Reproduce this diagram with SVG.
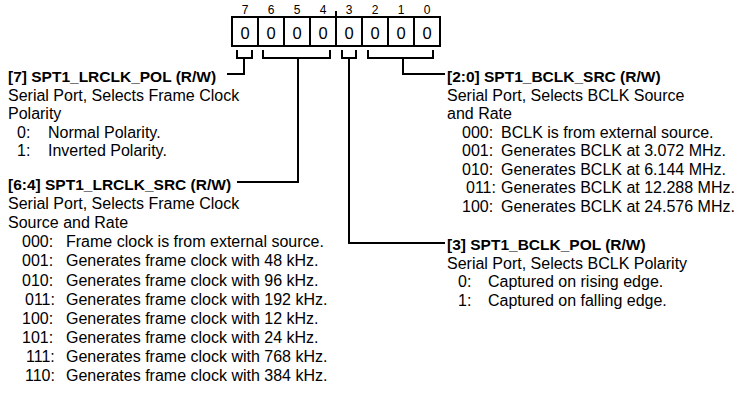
<svg xmlns="http://www.w3.org/2000/svg" width="743" height="400" viewBox="0 0 743 400">
<style>
text{font-family:"Liberation Sans",Arial,sans-serif;fill:#000}
.h{font-weight:bold;font-size:15.5px}
.t{font-size:16px}
.b{font-size:12px;text-anchor:middle}
.v{font-size:16.5px;text-anchor:middle}
.cell{fill:#fff;stroke:#000;stroke-width:2}
.ln{fill:none;stroke:#000;stroke-width:2}
</style>
<rect width="743" height="400" fill="#fff"/>
<g id="register">
<rect class="cell" x="232" y="17" width="26" height="29"/>
<rect class="cell" x="258" y="17" width="26" height="29"/>
<rect class="cell" x="284" y="17" width="26" height="29"/>
<rect class="cell" x="310" y="17" width="26" height="29"/>
<rect class="cell" x="336" y="17" width="26" height="29"/>
<rect class="cell" x="362" y="17" width="26" height="29"/>
<rect class="cell" x="388" y="17" width="26" height="29"/>
<rect class="cell" x="414" y="17" width="26" height="29"/>
<line class="ln" x1="336" y1="11" x2="336" y2="17"/>
<text class="b" x="245" y="14">7</text>
<text class="b" x="271" y="14">6</text>
<text class="b" x="297" y="14">5</text>
<text class="b" x="323" y="14">4</text>
<text class="b" x="349" y="14">3</text>
<text class="b" x="375" y="14">2</text>
<text class="b" x="401" y="14">1</text>
<text class="b" x="427" y="14">0</text>
<text class="v" x="245" y="38.5">0</text>
<text class="v" x="271" y="38.5">0</text>
<text class="v" x="297" y="38.5">0</text>
<text class="v" x="323" y="38.5">0</text>
<text class="v" x="349" y="38.5">0</text>
<text class="v" x="375" y="38.5">0</text>
<text class="v" x="401" y="38.5">0</text>
<text class="v" x="427" y="38.5">0</text>
</g>
<g id="connectors">
<path class="ln" d="M237,50 V58 H252 V50 M244,58 V74 H227"/>
<path class="ln" d="M263,50 V58 H330 V50 M298,58 V182 H237"/>
<path class="ln" d="M342,50 V58 H356 V50 M349,58 V243 H445"/>
<path class="ln" d="M368,50 V58 H433 V50 M403,58 V74 H445"/>
</g>
<g id="field-7">
<text class="h" x="8" y="82">[7] SPT1_LRCLK_POL (R/W)</text>
<text class="t" x="8" y="100.5">Serial Port, Selects Frame Clock</text>
<text class="t" x="8" y="119">Polarity</text>
<text class="t" x="17" y="137.5">0:</text><text class="t" x="48" y="137.5">Normal Polarity.</text>
<text class="t" x="17" y="156">1:</text><text class="t" x="48" y="156">Inverted Polarity.</text>
</g>
<g id="field-6-4">
<text class="h" x="8" y="190">[6:4] SPT1_LRCLK_SRC (R/W)</text>
<text class="t" x="8" y="209.1">Serial Port, Selects Frame Clock</text>
<text class="t" x="8" y="228.2">Source and Rate</text>
<text class="t" x="22" y="247.3">000:</text><text class="t" x="66" y="247.3">Frame clock is from external source.</text>
<text class="t" x="22" y="266.4">001:</text><text class="t" x="66" y="266.4">Generates frame clock with 48 kHz.</text>
<text class="t" x="22" y="285.5">010:</text><text class="t" x="66" y="285.5">Generates frame clock with 96 kHz.</text>
<text class="t" x="25" y="304.6">011:</text><text class="t" x="66" y="304.6">Generates frame clock with 192 kHz.</text>
<text class="t" x="22" y="323.7">100:</text><text class="t" x="66" y="323.7">Generates frame clock with 12 kHz.</text>
<text class="t" x="22" y="342.8">101:</text><text class="t" x="66" y="342.8">Generates frame clock with 24 kHz.</text>
<text class="t" x="26" y="361.9">111:</text><text class="t" x="66" y="361.9">Generates frame clock with 768 kHz.</text>
<text class="t" x="25" y="381">110:</text><text class="t" x="66" y="381">Generates frame clock with 384 kHz.</text>
</g>
<g id="field-2-0">
<text class="h" x="447" y="82">[2:0] SPT1_BCLK_SRC (R/W)</text>
<text class="t" x="447" y="100.5">Serial Port, Selects BCLK Source</text>
<text class="t" x="447" y="119">and Rate</text>
<text class="t" x="462" y="137.5">000:</text><text class="t" x="501" y="137.5">BCLK is from external source.</text>
<text class="t" x="462" y="156">001:</text><text class="t" x="501" y="156">Generates BCLK at 3.072 MHz.</text>
<text class="t" x="462" y="174.5">010:</text><text class="t" x="501" y="174.5">Generates BCLK at 6.144 MHz.</text>
<text class="t" x="466" y="193">011:</text><text class="t" x="501" y="193">Generates BCLK at 12.288 MHz.</text>
<text class="t" x="462" y="211.5">100:</text><text class="t" x="501" y="211.5">Generates BCLK at 24.576 MHz.</text>
</g>
<g id="field-3">
<text class="h" x="447" y="250">[3] SPT1_BCLK_POL (R/W)</text>
<text class="t" x="447" y="268.5">Serial Port, Selects BCLK Polarity</text>
<text class="t" x="458" y="287">0:</text><text class="t" x="488" y="287">Captured on rising edge.</text>
<text class="t" x="458" y="305.5">1:</text><text class="t" x="488" y="305.5">Captured on falling edge.</text>
</g>
</svg>
